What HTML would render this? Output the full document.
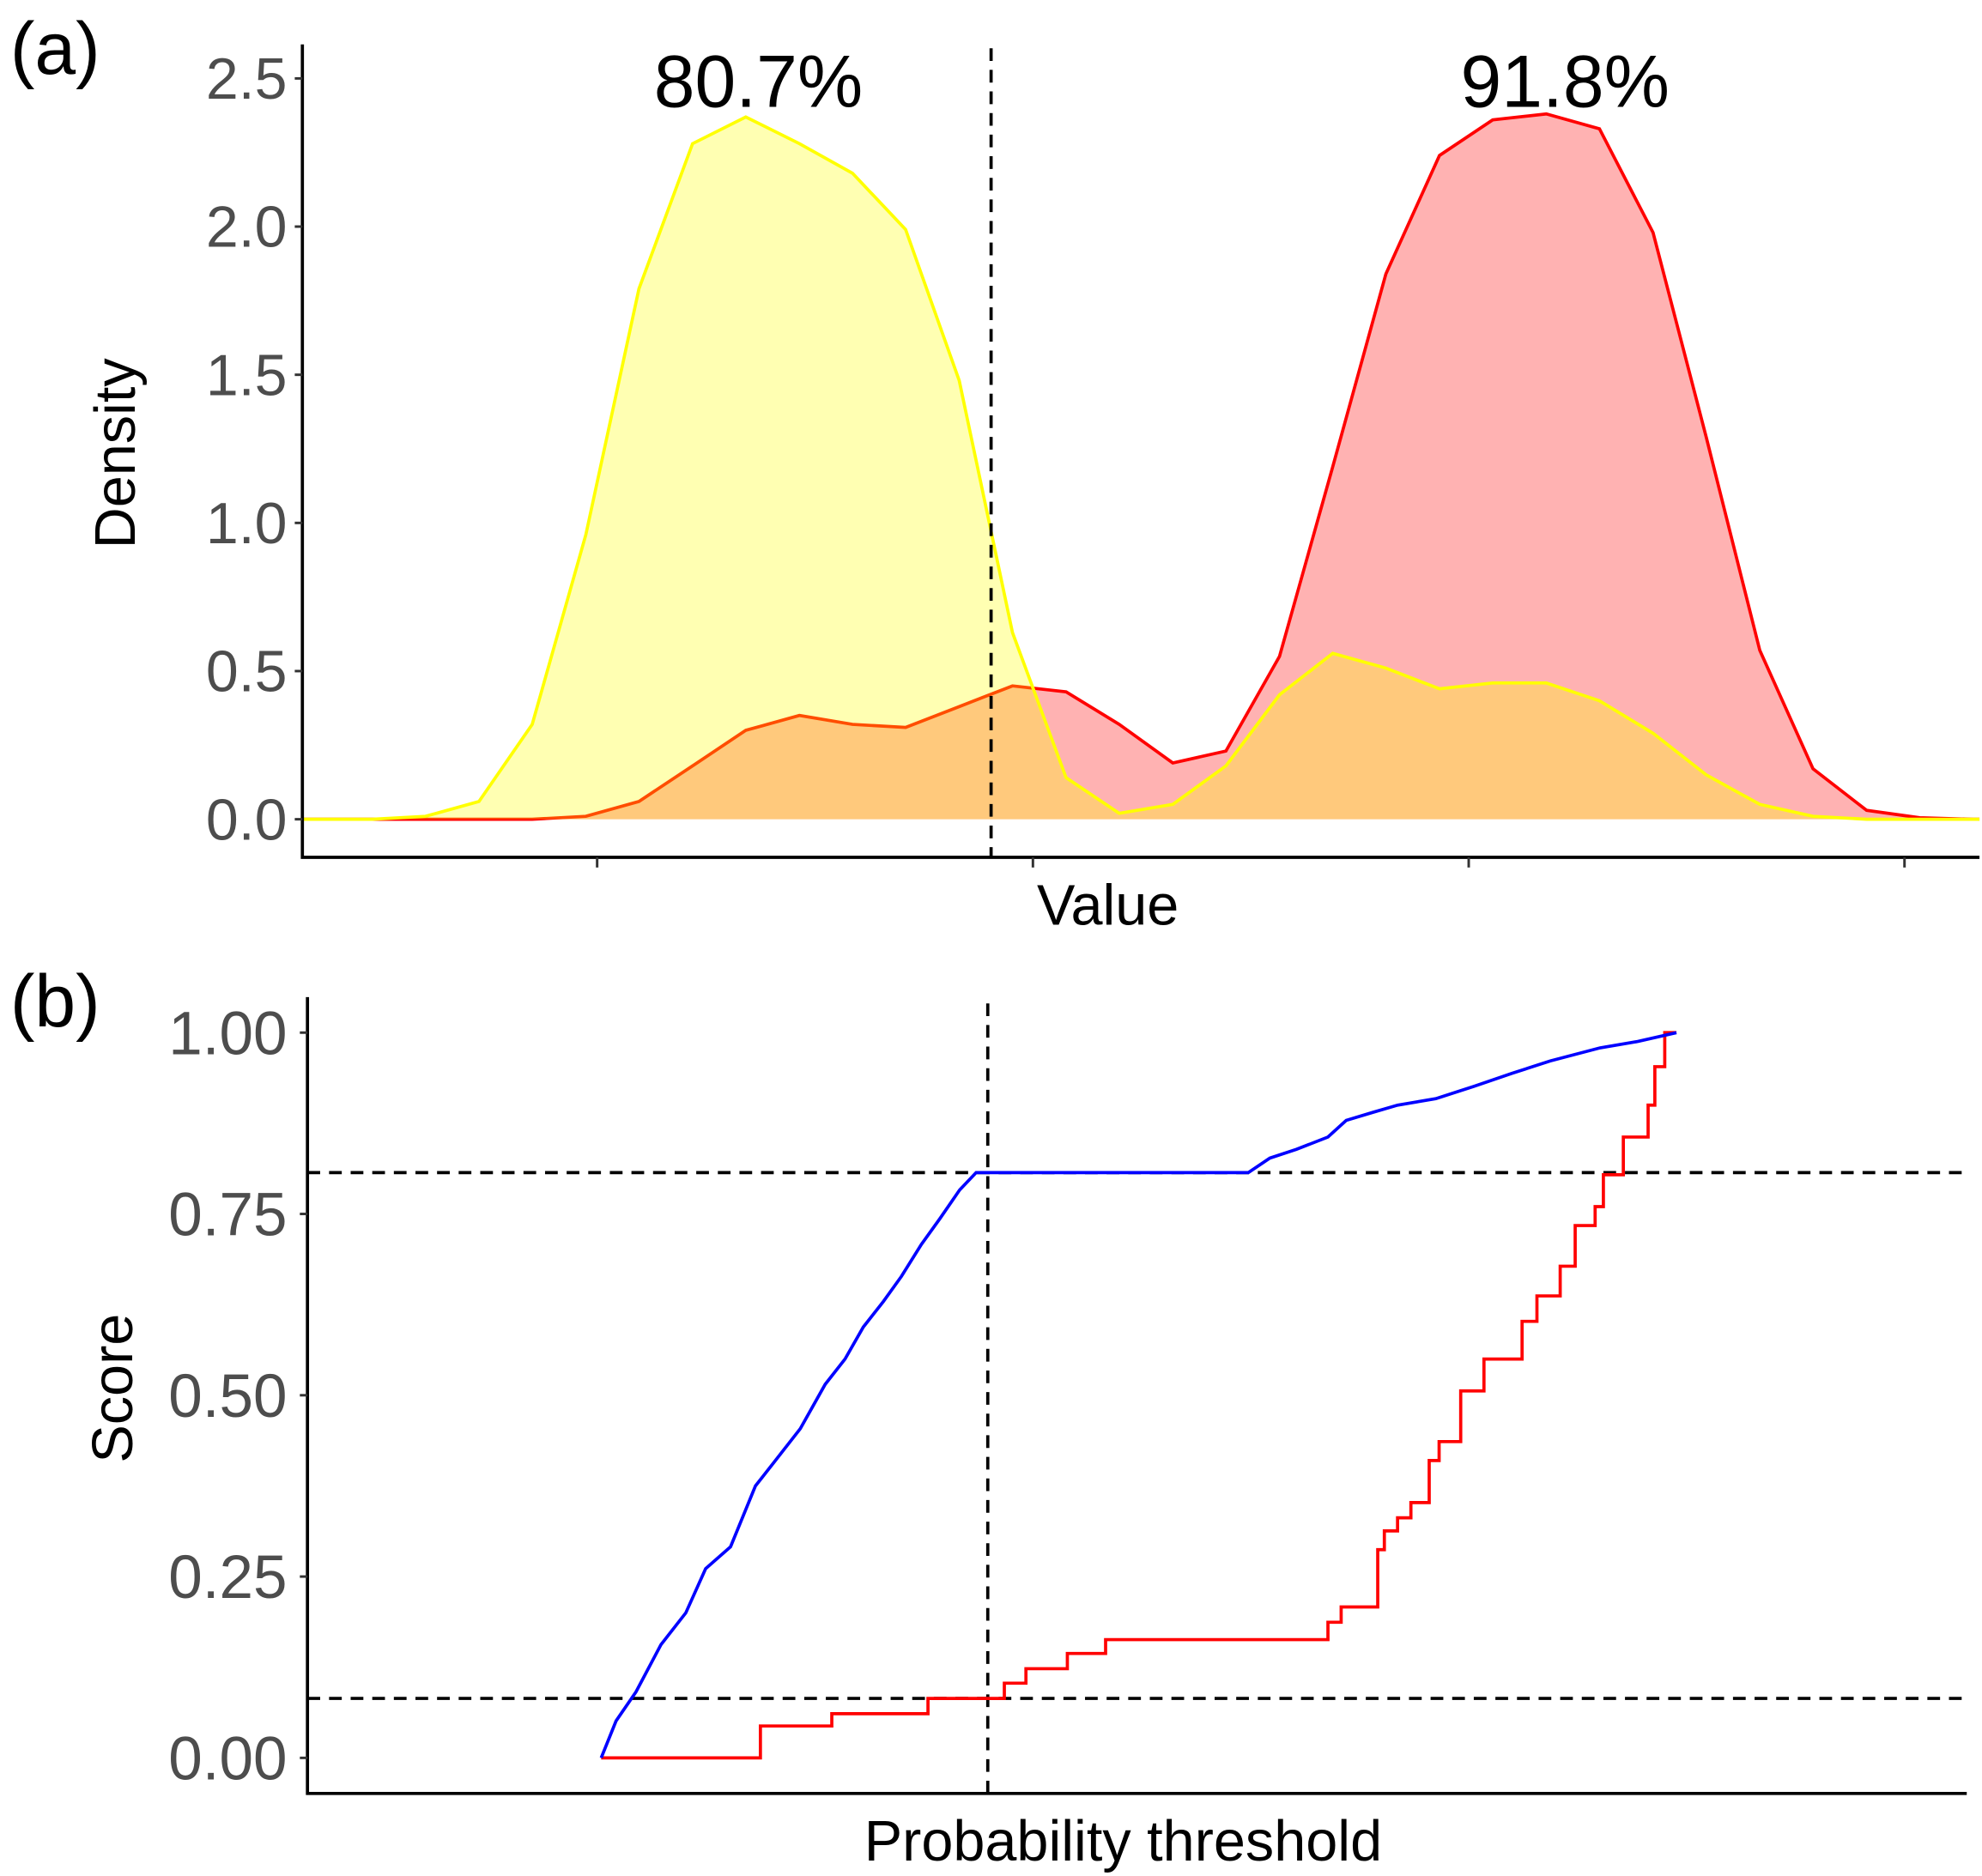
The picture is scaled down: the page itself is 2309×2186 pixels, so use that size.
<!DOCTYPE html>
<html><head><meta charset="utf-8"><style>
html,body{margin:0;padding:0;background:#fff}
svg{display:block}
text{font-family:"Liberation Sans",sans-serif}
</style></head><body>
<svg id="fig" width="2309" height="2186" viewBox="0 0 1560 1477" preserveAspectRatio="none" xmlns="http://www.w3.org/2000/svg">
<rect width="1560" height="1477" fill="#fff"/>
<g id="pa"></g>
<g id="pb"></g>
</svg>
<script>
// Panel (a) data
const densX = [-0.676,-0.516,-0.394,-0.271,-0.149,-0.026,0.096,0.219,0.341,0.464,0.586,0.708,0.831,0.953,1.076,1.198,1.321,1.443,1.566,1.688,1.810,1.933,2.055,2.178,2.300,2.423,2.545,2.668,2.790,2.913,3.035,3.157,3.172];
const densYellow = [0,0,0.01,0.06,0.32,0.96,1.79,2.28,2.37,2.28,2.18,1.99,1.48,0.63,0.14,0.02,0.05,0.18,0.42,0.56,0.51,0.44,0.46,0.46,0.40,0.29,0.15,0.05,0.01,0,0,0,0];
const densRed = [0,0,0,0,0,0.01,0.06,0.18,0.30,0.35,0.32,0.31,0.38,0.45,0.43,0.32,0.19,0.23,0.55,1.19,1.84,2.24,2.36,2.38,2.33,1.98,1.29,0.57,0.17,0.03,0.005,0,0];
const densTicks = [0,0.5,1,1.5,2,2.5];
const densTickLabels = ["0.0","0.5","1.0","1.5","2.0","2.5"];
const valueTicks = [0,1,2,3];
const thresholdA = 0.904;
const annotLabels = ["80.7%","91.8%"];
const annotX = [0.370,2.221];
// Panel (b) data
const blueX = [0.177,0.186,0.198,0.213,0.228,0.240,0.255,0.270,0.282,0.297,0.312,0.324,0.335,0.347,0.358,0.370,0.381,0.393,0.403,0.567,0.580,0.596,0.615,0.626,0.642,0.657,0.680,0.703,0.726,0.749,0.779,0.802,0.825];
const blueY = [0,0.051,0.091,0.156,0.200,0.261,0.291,0.375,0.410,0.454,0.515,0.550,0.594,0.629,0.664,0.708,0.743,0.783,0.807,0.807,0.827,0.839,0.856,0.879,0.890,0.900,0.909,0.926,0.944,0.961,0.979,0.988,1.0];
const redX = [0.177,0.273,0.316,0.374,0.420,0.433,0.458,0.481,0.615,0.623,0.645,0.649,0.657,0.665,0.676,0.682,0.695,0.709,0.732,0.741,0.755,0.764,0.776,0.781,0.793,0.808,0.812,0.818,0.825];
const redY = [0,0.044,0.061,0.082,0.103,0.123,0.144,0.163,0.187,0.208,0.287,0.313,0.331,0.352,0.410,0.436,0.506,0.550,0.602,0.637,0.678,0.734,0.760,0.804,0.856,0.900,0.953,1.0,1.0];
const scoreTicks = [0,0.25,0.5,0.75,1];
const scoreTickLabels = ["0.00","0.25","0.50","0.75","1.00"];
const thresholdB = 0.410;
const hLines = [0.807,0.082];

const NS="http://www.w3.org/2000/svg";
function el(parent,tag,attrs,txt){const e=document.createElementNS(NS,tag);for(const k in attrs)e.setAttribute(k,attrs[k]);if(txt!==undefined)e.textContent=txt;parent.appendChild(e);return e;}

// ---- Panel A ----
const pa=document.getElementById('pa');
const ax=v=>470+v*343, ay=v=>645-v*233.3;
const topPts=ys=>densX.map((x,i)=>ax(x).toFixed(1)+','+ay(ys[i]).toFixed(1));
function area(ys){return 'M'+ax(densX[0])+','+ay(0)+' L'+topPts(ys).join(' L')+' L'+ax(densX[densX.length-1])+','+ay(0)+' Z';}
let e;
e=el(pa,'path',{d:area(densRed),fill:'#ff0000','fill-opacity':0.3,stroke:'none'});


e=el(pa,'polyline',{points:topPts(densRed).join(' '),fill:'none',stroke:'#ff0000','stroke-width':2.5});


e=el(pa,'path',{d:area(densYellow),fill:'#ffff00','fill-opacity':0.3,stroke:'none'});


e=el(pa,'polyline',{points:topPts(densYellow).join(' '),fill:'none',stroke:'#ffff00','stroke-width':2.5});


e=el(pa,'line',{x1:ax(thresholdA),x2:ax(thresholdA),y1:38,y2:675,stroke:'#000','stroke-width':2.5,'stroke-dasharray':'10,7'});


el(pa,'path',{d:'M238,35 V675 H1558',fill:'none',stroke:'#000','stroke-width':2.5});
densTicks.forEach((t,i)=>{
  el(pa,'line',{x1:232,x2:238,y1:ay(t),y2:ay(t),stroke:'#333','stroke-width':2});
  const lb=el(pa,'text',{x:226,y:ay(t)+16,'text-anchor':'end','font-size':46,fill:'#4d4d4d'},densTickLabels[i]);
  
  
});
valueTicks.forEach(t=>{el(pa,'line',{x1:ax(t),x2:ax(t),y1:675,y2:683,stroke:'#333','stroke-width':2});});
annotLabels.forEach((s,i)=>{
  const an=el(pa,'text',{x:ax(annotX[i]),y:84,'text-anchor':'middle','font-size':58,fill:'#000'},s);
  
  
});
e=el(pa,'text',{x:8,y:58,'font-size':58,fill:'#000'},'(a)');


e=el(pa,'text',{x:0,y:0,'font-size':45,fill:'#000','text-anchor':'middle',transform:'translate(106,357) rotate(-90)'},'Density');


e=el(pa,'text',{x:872,y:728,'font-size':45,fill:'#000','text-anchor':'middle'},'Value');



// ---- Panel B ----
const pb=document.getElementById('pb');
const bx=v=>242+v*1306, by=v=>1384-v*571;
hLines.forEach(h=>{
  const hl=el(pb,'line',{x1:242,x2:1548,y1:by(h),y2:by(h),stroke:'#000','stroke-width':2.5,'stroke-dasharray':'10,7'});
  
  
});
e=el(pb,'line',{x1:bx(thresholdB),x2:bx(thresholdB),y1:790,y2:1412,stroke:'#000','stroke-width':2.5,'stroke-dasharray':'10,7'});


let rp='M'+bx(redX[0])+','+by(redY[0]);
for(let i=1;i<redX.length;i++){rp+=' H'+bx(redX[i]).toFixed(1)+' V'+by(redY[i]).toFixed(1);}
e=el(pb,'path',{d:rp,fill:'none',stroke:'#ff0000','stroke-width':2.5});


e=el(pb,'polyline',{points:blueX.map((x,i)=>bx(x).toFixed(1)+','+by(blueY[i]).toFixed(1)).join(' '),fill:'none',stroke:'#0000ff','stroke-width':2.5});


el(pb,'path',{d:'M242,785 V1412 H1548',fill:'none',stroke:'#000','stroke-width':2.5});
scoreTicks.forEach((t,i)=>{
  el(pb,'line',{x1:236,x2:242,y1:by(t),y2:by(t),stroke:'#333','stroke-width':2});
  const lb=el(pb,'text',{x:226,y:by(t)+17,'text-anchor':'end','font-size':48,fill:'#4d4d4d'},scoreTickLabels[i]);
  
  
});
e=el(pb,'text',{x:8,y:808,'font-size':58,fill:'#000'},'(b)');


e=el(pb,'text',{x:0,y:0,'font-size':45,fill:'#000','text-anchor':'middle',transform:'translate(104,1093) rotate(-90)'},'Score');


e=el(pb,'text',{x:884,y:1465,'font-size':45,fill:'#000','text-anchor':'middle'},'Probability threshold');


</script>
</body></html>
